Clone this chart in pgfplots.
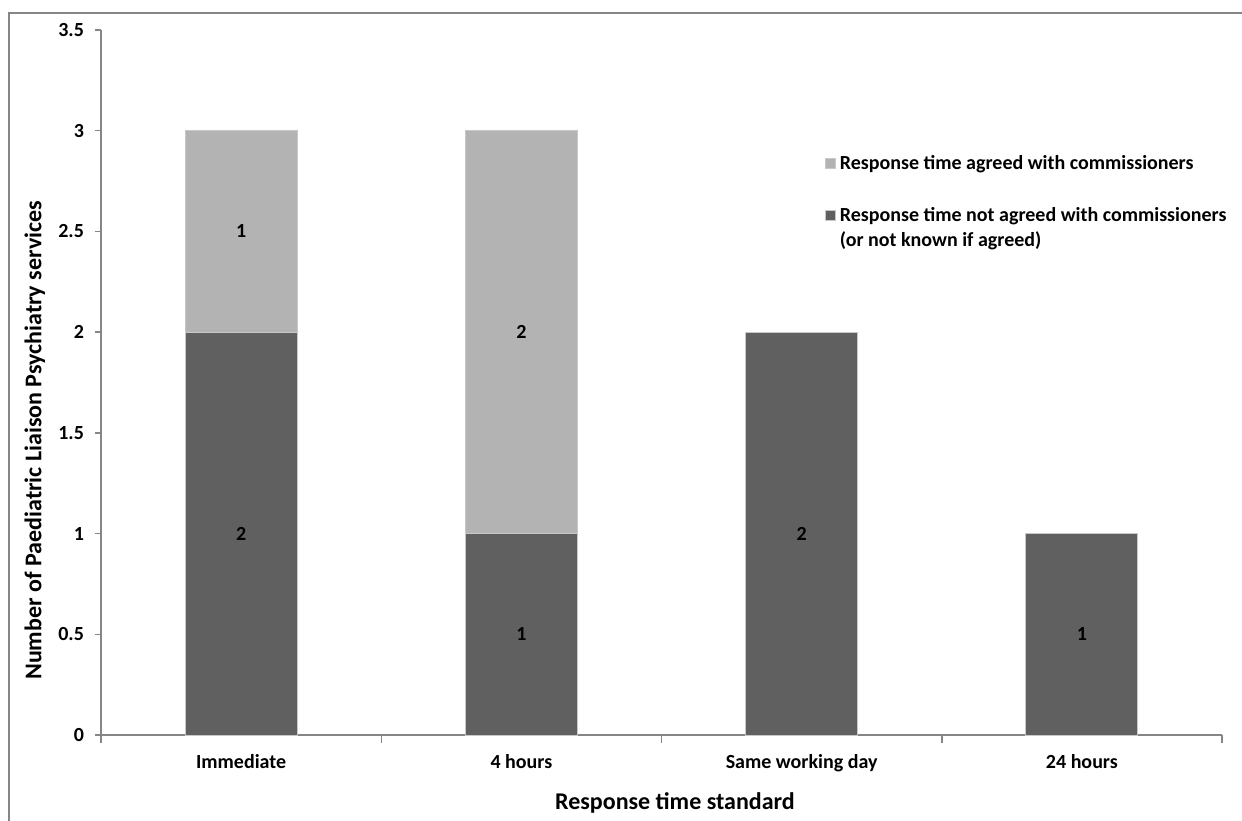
\documentclass[border=0pt]{standalone}
\usepackage{pgfplots}
\pgfplotsset{compat=1.18}
\usepackage{fontspec}
\setmainfont{Carlito}
\definecolor{lightbar}{RGB}{179,179,179}
\definecolor{darkbar}{RGB}{96,96,96}
\definecolor{axisgray}{RGB}{134,134,134}
\definecolor{edgegray}{RGB}{200,200,200}
\begin{document}
\begin{tikzpicture}
\useasboundingbox (0,0) rectangle (621pt,410pt);
\draw[axisgray, line width=0.9pt] (4.5pt,-5pt) -- (4.5pt,403.5pt) -- (630pt,403.5pt);
\begin{axis}[
  at={(50.5pt,42.5pt)}, anchor=south west,
  scale only axis, width=560.5pt, height=352.5pt,
  ybar stacked, bar width=56pt,
  xmin=-0.5, xmax=3.5, ymin=0, ymax=3.5,
  xtick={0,1,2,3},
  xticklabels={Immediate, 4 hours, Same working day, 24 hours},
  minor xtick={-0.5,0.5,1.5,2.5,3.5},
  ytick={0,0.5,...,3.5},
  axis x line*=bottom, axis y line*=left,
  axis line style={axisgray, line width=0.75pt},
  tick align=outside,
  major x tick style={draw=none},
  minor x tick style={axisgray, line width=0.75pt},
  minor tick length=4pt,
  major tick length=3pt,
  y tick style={axisgray, line width=0.75pt},
  /pgf/number format/assume math mode=true,
  tick label style={font=\fontsize{10}{12}\selectfont\bfseries},
  yticklabel style={xshift=-2pt},
  xticklabel style={yshift=-3pt},
  xlabel={Response time standard},
  ylabel={Number of Paediatric Liaison Psychiatry services},
  label style={font=\fontsize{12}{14}\selectfont\bfseries},
  xlabel style={at={(axis description cs:0.512,-0.097)}, anchor=center},
  ylabel style={at={(axis description cs:-0.059,0.418)}, anchor=center},
  reverse legend,
  legend style={at={(axis description cs:0.640,0.834)}, anchor=north west,
    draw=none, fill=none, font=\fontsize{10}{12.5}\selectfont\bfseries,
    cells={anchor=base west}, row sep=13.5pt},
  legend image code/.code={\fill[#1] (-1pt,0.7pt) rectangle (4pt,5.7pt);},
]
\addplot[fill=darkbar, draw=edgegray, line width=0.5pt] coordinates {(0,2) (1,1) (2,2) (3,1)};
\addlegendentry{\vtop{\baselineskip=12.5pt\hbox{Response time not agreed with commissioners}\hbox{(or not known if agreed)}}}
\addplot[fill=lightbar, draw=edgegray, line width=0.5pt] coordinates {(0,1) (1,2) (2,0) (3,0)};
\addlegendentry{Response time agreed with commissioners}
\end{axis}
\begin{axis}[
  at={(50.5pt,42.5pt)}, anchor=south west,
  scale only axis, width=560.5pt, height=352.5pt,
  xmin=-0.5, xmax=3.5, ymin=0, ymax=3.5,
  hide axis,
]
\addplot[draw=none, nodes near coords, point meta=explicit symbolic,
  nodes near coords style={anchor=center, font=\fontsize{10}{12}\selectfont\bfseries}]
  coordinates {(0,1)[2] (0,2.5)[1] (1,0.5)[1] (1,2)[2] (2,1)[2] (3,0.5)[1]};
\end{axis}
\end{tikzpicture}
\end{document}
